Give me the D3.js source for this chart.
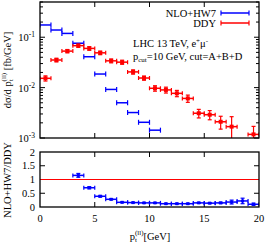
<!DOCTYPE html>
<html>
<head>
<meta charset="utf-8">
<script src="https://cdn.jsdelivr.net/npm/d3@7"></script>
<style>
  body { margin: 0; background: #fff; }
  text { font-family: "Liberation Serif", "Times New Roman", serif; fill: #000; }
</style>
</head>
<body>
<div id="chart"></div>
<script>
// bin centres (1 GeV bins)
const binCenters = [0.5, 1.5, 2.5, 3.5, 4.5, 5.5, 6.5, 7.5, 8.5, 9.5, 10.5, 11.5, 12.5, 13.5, 14.5, 15.5, 16.5, 17.5, 18.5, 19.5];
const ddyValues = [0.0153, 0.0353, 0.053, 0.068, 0.060, 0.049, 0.034, 0.032, 0.0205, 0.0155, 0.0097, 0.0090, 0.0077, 0.0061, 0.0031, 0.0029, 0.0021, 0.00168, 0.0008, 0.00118];
const ddyErrors = [0.0018, 0.003, 0.004, 0.005, 0.005, 0.004, 0.003, 0.003, 0.002, 0.0015, 0.0012, 0.0012, 0.0011, 0.0010, 0.0006, 0.0006, 0.0006, 0.00097, 0.0001, 0.00052];
const hw7Centers = [0.5, 1.5, 2.5, 3.5, 4.5, 5.5, 6.5, 7.5, 8.5, 9.5, 10.5];
const hw7Values = [0.175, 0.139, 0.119, 0.076, 0.041, 0.0186, 0.0092, 0.0050, 0.0032, 0.00205, 0.00143];
const ratioCenters = [3.5, 4.5, 5.5, 6.5, 7.5, 8.5, 9.5, 10.5, 11.5, 12.5, 13.5, 14.5, 15.5, 16.5, 17.5, 18.5, 19.5];
const ratioValues = [1.15, 0.70, 0.39, 0.28, 0.17, 0.16, 0.15, 0.15, 0.12, 0.12, 0.12, 0.15, 0.14, 0.15, 0.18, 0.22, 0.10];
const ratioErrors = [0.07, 0.04, 0.03, 0.02, 0.015, 0.015, 0.015, 0.015, 0.015, 0.015, 0.015, 0.02, 0.02, 0.025, 0.07, 0.1, 0.04];
const xTicks = [0, 5, 10, 15, 20];
const yDecades = [-1, -2, -3];
const ratioTicks = [0, 0.5, 1, 1.5, 2];
const legendNames = ["NLO+HW7", "DDY"];

const BLUE = "#0000ff", RED = "#ff0000";
const W = 267, H = 243;
const left = 40, right = 259;
const top1 = 2, bot1 = 138, top2 = 152, bot2 = 207;
const halfBin = 0.5;

const svg = d3.select("#chart").append("svg")
    .attr("width", W).attr("height", H);

const x = d3.scaleLinear().domain([0, 20]).range([left, right]);
const y = d3.scaleLog().domain([1e-3, 0.5]).range([bot1, top1]);
const yr = d3.scaleLinear().domain([0, 2]).range([bot2, top2]);

svg.append("clipPath").attr("id", "clipTop")
    .append("rect").attr("x", left).attr("y", top1).attr("width", right - left).attr("height", bot1 - top1);
svg.append("clipPath").attr("id", "clipBot")
    .append("rect").attr("x", left).attr("y", top2).attr("width", right - left).attr("height", bot2 - top2);

// ---- ticks (inward) ----
function frameTicks(yScale, yTop, yBot, yTickVals, minorVals) {
    const g = svg.append("g").attr("stroke", "#000").attr("stroke-width", 1);
    xTicks.slice(1, -1).forEach(v => {
        g.append("line").attr("x1", x(v)).attr("x2", x(v)).attr("y1", yBot).attr("y2", yBot - 5);
        g.append("line").attr("x1", x(v)).attr("x2", x(v)).attr("y1", yTop).attr("y2", yTop + 5);
    });
    yTickVals.forEach(v => {
        g.append("line").attr("x1", left).attr("x2", left + 5).attr("y1", yScale(v)).attr("y2", yScale(v));
        g.append("line").attr("x1", right).attr("x2", right - 5).attr("y1", yScale(v)).attr("y2", yScale(v));
    });
    minorVals.forEach(v => {
        g.append("line").attr("x1", left).attr("x2", left + 3).attr("y1", yScale(v)).attr("y2", yScale(v));
        g.append("line").attr("x1", right).attr("x2", right - 3).attr("y1", yScale(v)).attr("y2", yScale(v));
    });
}

const minorLog = [];
[-3, -2, -1].forEach(e => {
    for (let m = 2; m <= 9; m++) {
        const v = m * Math.pow(10, e);
        if (v <= 0.5) minorLog.push(v);
    }
});
frameTicks(y, top1, bot1, yDecades.map(e => Math.pow(10, e)), minorLog);
frameTicks(yr, top2, bot2, [0.5, 1, 1.5], []);

// ---- upper panel data ----
const up = svg.append("g").attr("clip-path", "url(#clipTop)");

function hBar(g, cx, cy, color, cap) {
    g.append("line").attr("x1", x(cx - halfBin)).attr("x2", x(cx + halfBin))
        .attr("y1", cy).attr("y2", cy).attr("stroke", color).attr("stroke-width", 1.5);
    [cx - halfBin, cx + halfBin].forEach(e => {
        g.append("line").attr("x1", x(e)).attr("x2", x(e))
            .attr("y1", cy - cap).attr("y2", cy + cap).attr("stroke", color).attr("stroke-width", 1.2);
    });
}
function vErr(g, px, yHi, yLo, color, cap) {
    g.append("line").attr("x1", px).attr("x2", px).attr("y1", yHi).attr("y2", yLo)
        .attr("stroke", color).attr("stroke-width", 1.2);
    [yHi, yLo].forEach(v => {
        g.append("line").attr("x1", px - cap).attr("x2", px + cap).attr("y1", v).attr("y2", v)
            .attr("stroke", color).attr("stroke-width", 1.2);
    });
}

hw7Centers.forEach((c, i) => {
    hBar(up, c, y(hw7Values[i]), BLUE, 2.5);
});

binCenters.forEach((c, i) => {
    const v = ddyValues[i], e = ddyErrors[i];
    const cy = y(v);
    hBar(up, c, cy, RED, 2);
    vErr(up, x(c), y(v + e), y(Math.max(v - e, 1e-5)), RED, 2);
    up.append("rect").attr("x", x(c) - 2).attr("y", cy - 2).attr("width", 4).attr("height", 4).attr("fill", RED);
});

// ---- lower panel data ----
const lo = svg.append("g").attr("clip-path", "url(#clipBot)");
lo.append("line").attr("x1", left).attr("x2", right).attr("y1", yr(1)).attr("y2", yr(1))
    .attr("stroke", RED).attr("stroke-width", 1);
ratioCenters.forEach((c, i) => {
    const v = ratioValues[i], e = ratioErrors[i];
    hBar(lo, c, yr(v), BLUE, 2);
    vErr(lo, x(c), yr(v + e), yr(v - e), BLUE, 2);
    lo.append("rect").attr("x", x(c) - 1.5).attr("y", yr(v) - 1.5).attr("width", 3).attr("height", 3).attr("fill", BLUE);
});

// ---- frames ----
[[top1, bot1], [top2, bot2]].forEach(([t, b]) => {
    svg.append("rect").attr("x", left).attr("y", t).attr("width", right - left).attr("height", b - t)
        .attr("fill", "none").attr("stroke", "#000").attr("stroke-width", 1.3);
});

// ---- tick labels ----
const fs = 10.5;
yDecades.forEach(e => {
    const t = svg.append("text").attr("x", 35).attr("y", y(Math.pow(10, e)) + 4)
        .attr("text-anchor", "end").attr("font-size", fs);
    t.append("tspan").text("10");
    t.append("tspan").attr("dy", -4).attr("font-size", 7.5).text("-" + Math.abs(e));
});
ratioTicks.forEach(v => {
    svg.append("text").attr("x", 35).attr("y", yr(v) + 3.5)
        .attr("text-anchor", "end").attr("font-size", fs).text(v);
});
xTicks.forEach(v => {
    svg.append("text").attr("x", x(v)).attr("y", 222)
        .attr("text-anchor", "middle").attr("font-size", fs).text(v);
});

// ---- axis titles ----
const yl = svg.append("text").attr("transform", "translate(11,70) rotate(-90)")
    .attr("text-anchor", "middle").attr("font-size", fs);
yl.append("tspan").text("d\u03c3/d p");
yl.append("tspan").attr("font-size", 7).attr("dy", 2).text("t");
yl.append("tspan").attr("font-size", 7).attr("dx", -2).attr("dy", -7).text("(ll)");
yl.append("tspan").attr("dy", 5).text(" [fb/GeV]");

svg.append("text").attr("transform", "translate(11,180) rotate(-90)")
    .attr("text-anchor", "middle").attr("font-size", fs).text("NLO+HW7/DDY");

const xl = svg.append("text").attr("x", 150).attr("y", 240)
    .attr("text-anchor", "middle").attr("font-size", fs);
xl.append("tspan").text("p");
xl.append("tspan").attr("font-size", 7).attr("dy", 2).text("t");
xl.append("tspan").attr("font-size", 7).attr("dx", -2).attr("dy", -7).text("(ll)");
xl.append("tspan").attr("dy", 5).text("[GeV]");

// ---- legend ----
const legendColors = [BLUE, RED];
legendNames.forEach((name, i) => {
    const ly = 13 + i * 10;
    svg.append("text").attr("x", 216).attr("y", ly + 3.5).attr("text-anchor", "end")
        .attr("font-size", fs).text(name);
    const g = svg.append("g");
    g.append("line").attr("x1", 221).attr("x2", 249).attr("y1", ly).attr("y2", ly)
        .attr("stroke", legendColors[i]).attr("stroke-width", 1.5);
    [221, 249].forEach(px => g.append("line").attr("x1", px).attr("x2", px)
        .attr("y1", ly - 2.5).attr("y2", ly + 2.5).attr("stroke", legendColors[i]).attr("stroke-width", 1.2));
});

// ---- annotation ----
const a1 = svg.append("text").attr("x", 133).attr("y", 47).attr("font-size", fs);
a1.append("tspan").text("LHC 13 TeV, e");
a1.append("tspan").attr("font-size", 7).attr("dy", -4).text("+");
a1.append("tspan").attr("dy", 4).text("\u03bc");
a1.append("tspan").attr("font-size", 7).attr("dy", -4).text("-");

const a2 = svg.append("text").attr("x", 133).attr("y", 60).attr("font-size", fs);
a2.append("tspan").text("p");
a2.append("tspan").attr("font-size", 7).attr("dy", 2).text("cut");
a2.append("tspan").attr("dy", -2).text("=10 GeV, cut=A+B+D");
</script>
</body>
</html>
